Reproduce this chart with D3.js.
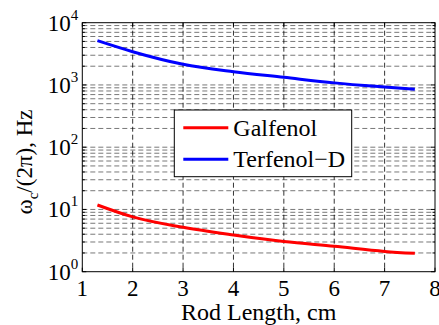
<!DOCTYPE html>
<html>
<head>
<meta charset="utf-8">
<script src="https://cdn.jsdelivr.net/npm/d3@7"></script>
<style>
  body { margin: 0; background: #fff; }
  text { font-family: "Liberation Serif", "Times New Roman", serif; fill: #000; }
</style>
</head>
<body>
<div id="chart"></div>
<script>
// rod length (cm) and cut-off frequency (Hz)
const rodLength = [1.3, 2, 3, 4, 5, 6, 7, 7.6];
const galfenol  = [11.8, 7.6, 5.17, 3.89, 3.05, 2.56, 2.12, 1.97];
const terfenol  = [5140, 3420, 2148, 1633, 1327, 1080, 925, 851];
const xTicks = [1, 2, 3, 4, 5, 6, 7, 8];
const yExps = [0, 1, 2, 3, 4];
const seriesNames = ["Galfenol", "Terfenol\u2212D"];
const seriesColors = ["#ff0000", "#0000ff"];

const W = 439, H = 325;
const margin = {top: 22.7, right: 4, bottom: 53.3, left: 82.3},
      width = W - margin.left - margin.right,
      height = H - margin.top - margin.bottom;

const svg = d3.select('#chart').append('svg')
    .attr("width", W)
    .attr("height", H)
    .attr("font-family", "'Liberation Serif', serif");
const g = svg.append("g")
    .attr("transform", "translate(" + margin.left + "," + margin.top + ")");

const x = d3.scaleLinear().domain([1, 8]).range([0, width]);
const y = d3.scaleLog().domain([1, 10000]).range([height, 0]);

// grid lines, major and minor for the log axis
let yGrid = [];
yExps.slice(0, -1).forEach(e => {
    for (let k = 1; k <= 9; k++) yGrid.push(k * Math.pow(10, e));
});
yGrid = yGrid.filter(v => v > 1);

g.selectAll(".ygrid").data(yGrid).enter().append("line")
    .attr("x1", 0).attr("x2", width)
    .attr("y1", d => y(d)).attr("y2", d => y(d))
    .attr("stroke", "#555").attr("stroke-width", 0.8)
    .attr("stroke-dasharray", "5,3");
g.selectAll(".xgrid").data(xTicks.slice(1, -1)).enter().append("line")
    .attr("y1", 0).attr("y2", height)
    .attr("x1", d => x(d)).attr("x2", d => x(d))
    .attr("stroke", "#000").attr("stroke-width", 0.8)
    .attr("stroke-dasharray", "5,3");

// inward ticks on all sides
const tl = 4, tlMinor = 2.5;
xTicks.forEach(t => {
    g.append("line").attr("x1", x(t)).attr("x2", x(t)).attr("y1", height).attr("y2", height - tl).attr("stroke", "#000");
    g.append("line").attr("x1", x(t)).attr("x2", x(t)).attr("y1", 0).attr("y2", tl).attr("stroke", "#000");
});
yGrid.concat([1, 10000]).forEach(v => {
    const major = Math.abs(Math.log10(v) - Math.round(Math.log10(v))) < 1e-9;
    const len = major ? tl : tlMinor;
    g.append("line").attr("x1", 0).attr("x2", len).attr("y1", y(v)).attr("y2", y(v)).attr("stroke", "#000");
    g.append("line").attr("x1", width).attr("x2", width - len).attr("y1", y(v)).attr("y2", y(v)).attr("stroke", "#000");
});

// frame
g.append("rect").attr("width", width).attr("height", height)
    .attr("fill", "none").attr("stroke", "#000").attr("stroke-width", 1);

// curves
const line = d3.line()
    .x(d => x(d[0]))
    .y(d => y(d[1]))
    .curve(d3.curveMonotoneX);
[galfenol, terfenol].forEach((vals, i) => {
    g.append("path")
        .datum(rodLength.map((l, j) => [l, vals[j]]))
        .attr("d", line)
        .attr("fill", "none")
        .attr("stroke", seriesColors[i])
        .attr("stroke-width", 3);
});

// x tick labels
g.selectAll(".xl").data(xTicks).enter().append("text")
    .attr("x", d => x(d)).attr("y", height + 24)
    .attr("text-anchor", "middle")
    .style("font-size", "23px")
    .text(d => d);

// y tick labels 10^n
yExps.forEach(e => {
    const t = g.append("text")
        .attr("x", -4).attr("y", y(Math.pow(10, e)) + 8)
        .attr("text-anchor", "end")
        .style("font-size", "23px");
    t.append("tspan").text("10");
    t.append("tspan").attr("dy", -11).style("font-size", "15px").text(e);
});

// axis labels
svg.append("text")
    .attr("x", margin.left + width / 2).attr("y", 320)
    .attr("text-anchor", "middle")
    .style("font-size", "24px")
    .text("Rod Length, cm");

const yl = svg.append("text")
    .attr("transform", "translate(32,162) rotate(-90)")
    .attr("text-anchor", "middle")
    .style("font-size", "23px");
yl.append("tspan").text("\u03c9");
yl.append("tspan").attr("dy", 6).style("font-size", "15px").text("c");
yl.append("tspan").attr("dy", -6).text("/(2\u03c0), Hz");

// legend
const lx = 174.3 - margin.left, ly = 110 - margin.top;
g.append("rect").attr("x", lx).attr("y", ly)
    .attr("width", 177.4).attr("height", 66.7)
    .attr("fill", "#fff").attr("stroke", "#000").attr("stroke-width", 1);
seriesNames.forEach((n, i) => {
    const yy = ly + 17.7 + i * 31.6;
    g.append("line").attr("x1", lx + 9).attr("x2", lx + 54)
        .attr("y1", yy).attr("y2", yy)
        .attr("stroke", seriesColors[i]).attr("stroke-width", 3);
    g.append("text").attr("x", lx + 59).attr("y", yy + 8)
        .style("font-size", "24px")
        .text(n);
});
</script>
</body>
</html>
